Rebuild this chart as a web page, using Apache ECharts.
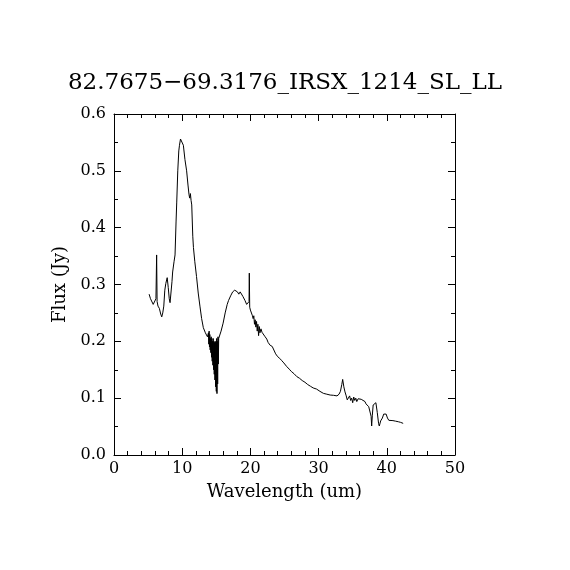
<!DOCTYPE html>
<html>
<head>
<meta charset="utf-8">
<script src="https://cdn.jsdelivr.net/npm/echarts@6/dist/echarts.min.js"></script>
<style>
    html, body { margin: 0; padding: 0; background: #fff; }
    #chart { width: 570px; height: 570px; }
</style>
</head>
<body>
<div id="chart"></div>
<script>
    var titleText = '82.7675\u221269.3176_IRSX_1214_SL_LL';

    // wavelength (um)
    var wavelength = [
        5.15, 5.35, 5.55, 5.75, 5.95, 6.15, 6.25, 6.32, 6.45, 6.65, 6.85, 7.0, 7.15, 7.3, 7.45, 7.6, 7.8, 7.95,
        8.1, 8.22, 8.35, 8.5, 8.6, 8.8, 8.95, 9.1, 9.2, 9.35, 9.5, 9.6, 9.75, 9.88, 10.0, 10.17, 10.4, 10.65,
        10.85, 11.0, 11.1, 11.2, 11.3, 11.4, 11.55, 11.65, 11.85, 12.1, 12.35, 12.6, 12.85, 13.1, 13.4, 13.7,
        13.85, 13.9, 13.95, 14.0, 14.05, 14.1, 14.15, 14.2, 14.25, 14.3, 14.35, 14.4, 14.45, 14.5, 14.55, 14.6,
        14.65, 14.7, 14.75, 14.8, 14.85, 14.9, 14.95, 15.0, 15.05, 15.1, 15.15, 15.2, 15.25, 15.3, 15.35, 15.45,
        15.7, 16.0, 16.3, 16.6, 16.8, 17.1, 17.4, 17.7, 17.9, 18.1, 18.3, 18.5, 18.7, 18.9, 19.2, 19.45, 19.7,
        19.8, 19.84, 19.9, 20.0, 20.15, 20.3, 20.4, 20.5, 20.6, 20.7, 20.8, 20.9, 21.0, 21.1, 21.2, 21.3, 21.4,
        21.55, 21.7, 21.9, 22.1, 22.4, 22.6, 22.9, 23.2, 23.4, 23.7, 24.0, 24.3, 24.6, 24.9, 25.3, 25.7, 26.0,
        26.4, 26.8, 27.2, 27.6, 28.0, 28.4, 28.8, 29.2, 29.7, 30.2, 30.7, 31.2, 31.7, 32.2, 32.7, 33.0, 33.2,
        33.4, 33.53, 33.7, 33.87, 34.05, 34.2, 34.4, 34.55, 34.7, 34.85, 35.0, 35.15, 35.3, 35.45, 35.6, 35.8,
        36.0, 36.25, 36.5, 36.8, 36.95, 37.15, 37.35, 37.55, 37.7, 37.78, 37.88, 38.0, 38.2, 38.4, 38.6, 38.8,
        38.9, 39.1, 39.35, 39.55, 39.74, 39.9, 40.1, 40.3, 40.5, 40.9, 41.3, 41.7, 42.0, 42.2, 42.4
    ];

    // flux (Jy)
    var flux = [
        0.283, 0.275, 0.272, 0.265, 0.262, 0.275, 0.352, 0.27, 0.262, 0.258, 0.248, 0.243, 0.25, 0.262, 0.29, 0.302, 0.312, 0.295,
        0.275, 0.268, 0.285, 0.305, 0.322, 0.34, 0.352, 0.41, 0.445, 0.5, 0.535, 0.545, 0.556, 0.558, 0.553, 0.545, 0.52, 0.5,
        0.475, 0.458, 0.452, 0.46, 0.448, 0.44, 0.385, 0.365, 0.34, 0.314, 0.285, 0.262, 0.24, 0.224, 0.215, 0.208,
        0.215, 0.195, 0.218, 0.19, 0.212, 0.185, 0.205, 0.18, 0.208, 0.172, 0.205, 0.165, 0.2, 0.158, 0.205, 0.15,
        0.2, 0.142, 0.198, 0.132, 0.2, 0.12, 0.198, 0.112, 0.205, 0.108, 0.2, 0.125, 0.208, 0.16, 0.205, 0.208,
        0.218, 0.232, 0.25, 0.265, 0.272, 0.28, 0.287, 0.29, 0.291, 0.287, 0.283, 0.287, 0.285, 0.279, 0.272, 0.265, 0.262,
        0.27, 0.32, 0.26, 0.255, 0.252, 0.245, 0.24, 0.245, 0.23, 0.238, 0.225, 0.235, 0.218, 0.23, 0.21, 0.226, 0.215,
        0.222, 0.216, 0.214, 0.209, 0.204, 0.198, 0.193, 0.191, 0.188, 0.178, 0.173, 0.17, 0.166, 0.162, 0.156, 0.151, 0.147,
        0.143, 0.138, 0.135, 0.131, 0.128, 0.124, 0.121, 0.118, 0.116, 0.112, 0.1085, 0.107, 0.1055, 0.105, 0.104, 0.107, 0.112,
        0.124, 0.133, 0.12, 0.111, 0.104, 0.097, 0.1, 0.104, 0.096, 0.1, 0.092, 0.102, 0.096, 0.1, 0.094, 0.099,
        0.097, 0.098, 0.095, 0.094, 0.09, 0.087, 0.085, 0.086, 0.068, 0.051, 0.07, 0.088, 0.09, 0.092, 0.075, 0.055,
        0.051, 0.06, 0.065, 0.072, 0.0755, 0.072, 0.065, 0.061, 0.0604, 0.0605, 0.0595, 0.0585, 0.0575, 0.0565, 0.0557
    ];

    var xTicks = [0, 10, 20, 30, 40, 50];
    var yTicks = [0.0, 0.1, 0.2, 0.3, 0.4, 0.5, 0.6];

    var points = [];
    for (var i = 0; i < wavelength.length; i++) {
        points.push([wavelength[i], flux[i]]);
    }

    var font = 'DejaVu Serif';
    var lineStyle = {color: '#000', width: 1};

    // PGPLOT-like axis: ticks inside, on every side
    function makeAxis(pos, isX, showLabel) {
        var ticks = isX ? xTicks : yTicks;
        return {
            type: 'value',
            position: pos,
            min: ticks[0],
            max: ticks[ticks.length - 1],
            interval: isX ? 10 : 0.1,
            axisLine: {show: true, onZero: false, lineStyle: lineStyle},
            axisTick: {show: true, inside: true, length: 7, lineStyle: lineStyle},
            minorTick: {show: true, splitNumber: isX ? 5 : 2, length: 4, lineStyle: lineStyle},
            splitLine: {show: false},
            axisLabel: {
                show: showLabel,
                color: '#000',
                fontFamily: font,
                fontSize: 16,
                margin: isX ? 6 : 8,
                formatter: function (v) {
                    return isX ? String(Math.round(v)) : v.toFixed(1);
                }
            }
        };
    }

    var xBottom = makeAxis('bottom', true, true);
    xBottom.name = 'Wavelength (um)';
    xBottom.nameLocation = 'middle';
    xBottom.nameGap = 28;
    xBottom.nameTextStyle = {color: '#000', fontFamily: font, fontSize: 18};

    var yLeft = makeAxis('left', false, true);
    yLeft.name = 'Flux (Jy)';
    yLeft.nameLocation = 'middle';
    yLeft.nameGap = 43;
    yLeft.nameTextStyle = {color: '#000', fontFamily: font, fontSize: 18};

    var myChart = echarts.init(document.getElementById('chart'));

    var option = {
        backgroundColor: '#fff',
        animation: false,
        title: {
            text: titleText,
            left: 'center',
            top: 67,
            textStyle: {color: '#000', fontFamily: font, fontSize: 23, fontWeight: 'normal'}
        },
        grid: {left: 114, right: 115, top: 114, bottom: 115},
        xAxis: [xBottom, makeAxis('top', true, false)],
        yAxis: [yLeft, makeAxis('right', false, false)],
        series: [
            {
                type: 'line',
                data: points,
                xAxisIndex: 0,
                yAxisIndex: 0,
                showSymbol: false,
                symbol: 'none',
                sampling: null,
                lineStyle: lineStyle
            }
        ]
    };

    myChart.setOption(option);
</script>
</body>
</html>
